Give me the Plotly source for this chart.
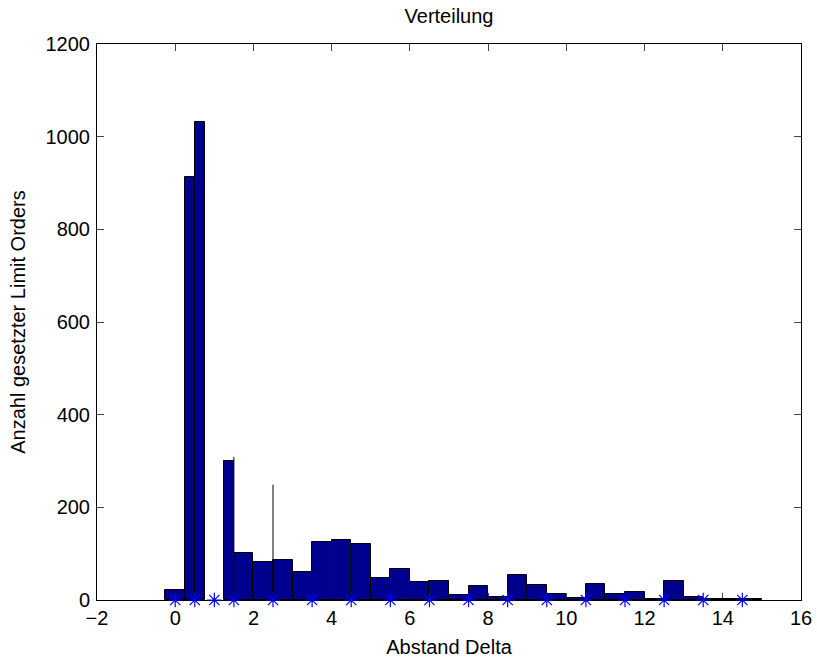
import plotly.graph_objects as go

# Histogram bars (bin centre, bin width, count)
bin_centers = [0.0, 0.375, 0.625, 1.375, 1.75, 2.25, 2.75, 3.25, 3.75, 4.25, 4.75,
               5.25, 5.75, 6.25, 6.75, 7.25, 7.75, 8.25, 8.75, 9.25, 9.75, 10.25,
               10.75, 11.25, 11.75, 12.25, 12.75, 13.25, 13.75, 14.25, 14.75]
bin_widths = [0.5, 0.25, 0.25, 0.25] + [0.5] * 27
counts = [22, 912, 1031, 299, 101, 81, 86, 61, 125, 129, 121,
          48, 66, 39, 40, 11, 30, 6, 55, 33, 14, 4,
          34, 14, 18, 2, 40, 7, 3, 2, 2]

# Thin spikes
spike_x = [1.5, 2.5]
spike_y = [309, 249]

# Star markers on the baseline
star_x = [0, 0.5, 1, 1.5, 2.5, 3.5, 4.5, 5.5, 6.5, 7.5, 8.5, 9.5, 10.5, 11.5, 12.5, 13.5, 14.5]
star_y = [0] * len(star_x)

x_ticks = list(range(-2, 17, 2))
y_ticks = list(range(0, 1201, 200))

FONT = "Liberation Sans, Arial, sans-serif"
FS = 20

fig = go.Figure()
fig.add_trace(go.Bar(
    x=bin_centers, y=counts, width=bin_widths,
    marker=dict(color="rgb(0,0,143)", line=dict(color="black", width=1)),
    showlegend=False,
))

sx, sy = [], []
for xv, yv in zip(spike_x, spike_y):
    sx += [xv, xv, None]
    sy += [0, yv, None]
fig.add_trace(go.Scatter(x=sx, y=sy, mode="lines",
                         line=dict(color="black", width=1), showlegend=False))

fig.add_trace(go.Scatter(
    x=star_x, y=star_y, mode="markers",
    marker=dict(symbol="asterisk-open", size=12, color="rgb(0,0,255)",
                line=dict(color="rgb(0,0,255)", width=1.2)),
    cliponaxis=False, showlegend=False,
))

fig.update_layout(
    width=817, height=659,
    margin=dict(l=97, r=16, t=44, b=59, autoexpand=False),
    paper_bgcolor="white", plot_bgcolor="white",
    font=dict(family=FONT, size=FS, color="black"),
    title=dict(text="Verteilung", x=0.5, xref="paper", xanchor="center",
               y=0.975, yref="container", yanchor="middle",
               font=dict(family=FONT, size=FS, color="black")),
    bargap=0,
    xaxis=dict(range=[-2, 16], tickvals=x_ticks, ticks="inside", ticklen=7,
               showline=True, linecolor="black", linewidth=1, mirror="ticks",
               showgrid=False, zeroline=False, layer="below traces",
               automargin=False,
               title=dict(text="Abstand Delta", standoff=11,
                          font=dict(family=FONT, size=FS)),
               tickfont=dict(family=FONT, size=FS)),
    yaxis=dict(range=[0, 1200], tickvals=y_ticks, ticks="inside", ticklen=7,
               showline=True, linecolor="black", linewidth=1, mirror="ticks",
               showgrid=False, zeroline=False, layer="below traces",
               automargin=False, ticklabelstandoff=2,
               title=dict(text="Anzahl gesetzter Limit Orders", standoff=14,
                          font=dict(family=FONT, size=FS)),
               tickfont=dict(family=FONT, size=FS)),
)

fig.write_html(
    "out.html",
    config={"displayModeBar": False},
    post_script="document.body.style.margin='0';document.body.style.overflow='hidden';",
)
